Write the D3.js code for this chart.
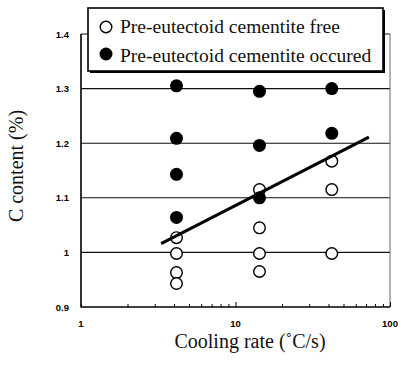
<!DOCTYPE html>
<html><head><meta charset="utf-8">
<script src="https://cdn.jsdelivr.net/npm/d3@7"></script>
<style>body{margin:0;background:#fff}svg{display:block}</style>
</head><body>
<svg id="c" width="401" height="369"></svg>
<script>
const yTicks = [0.9, 1.0, 1.1, 1.2, 1.3, 1.4];
const yTickLabels = ["0.9", "1", "1.1", "1.2", "1.3", "1.4"];
const xTicks = [1, 10, 100];
const xTickLabels = ["1", "10", "100"];
const freeX = [4.15, 4.15, 4.15, 4.15, 14.3, 14.3, 14.3, 14.3, 42, 42, 42];
const freeY = [1.027, 0.998, 0.963, 0.943, 1.115, 1.045, 0.998, 0.965, 1.167, 1.115, 0.998];
const occX = [4.15, 4.15, 4.15, 4.15, 14.3, 14.3, 14.3, 42, 42];
const occY = [1.305, 1.209, 1.143, 1.064, 1.295, 1.196, 1.10, 1.30, 1.218];
const trendX = [3.3, 73];
const trendY = [1.016, 1.211];
const legendLabels = ["Pre-eutectoid cementite free", "Pre-eutectoid cementite occured"];

const SERIF = '"Liberation Serif"';
const SANS = '"Liberation Sans"';

const svg = d3.select("#c");
const x = d3.scaleLog().domain([1, 100]).range([81, 390]);
const y = d3.scaleLinear().domain([0.9, 1.4]).range([307, 34]);

// gridlines
svg.append("g").selectAll("line").data(yTicks.filter(d => d > 0.9)).join("line")
  .attr("x1", x(1)).attr("x2", x(100)).attr("y1", d => y(d)).attr("y2", d => y(d))
  .attr("stroke", "#111").attr("stroke-width", 1.1);

// right axis
svg.append("line").attr("x1", x(100)).attr("x2", x(100)).attr("y1", y(1.4)).attr("y2", y(0.9))
  .attr("stroke", "#666").attr("stroke-width", 1);

// left axis
svg.append("line").attr("x1", x(1)).attr("x2", x(1)).attr("y1", y(1.4)).attr("y2", y(0.9) + 0.5)
  .attr("stroke", "#000").attr("stroke-width", 1.6);
// bottom axis
const xAxis = d3.axisBottom(x).tickValues(d3.range(1, 10).concat(d3.range(10, 101, 10))).tickSize(-3).tickFormat("");
const gx = svg.append("g").attr("transform", `translate(0,${y(0.9)})`).call(xAxis);
gx.select(".domain").attr("stroke", "#000").attr("stroke-width", 1.6).attr("d", `M${x(1)},0H${x(100)}`);
gx.selectAll(".tick line").attr("stroke", "#000").attr("stroke-width", 1)
  .attr("y2", d => (d === 10 || d === 100) ? -5 : -3);

// x tick labels
svg.append("g").selectAll("text").data(xTicks).join("text")
  .style("font-family", SANS).style("font-weight", "bold").style("font-size", "9.5px")
  .attr("x", d => x(d)).attr("y", 327).attr("text-anchor", "middle")
  .text((d, i) => xTickLabels[i]);
// y tick labels
svg.append("g").selectAll("text").data(yTicks).join("text")
  .style("font-family", SANS).style("font-weight", "bold").style("font-size", "9.5px")
  .attr("x", 69).attr("y", d => y(d) + 3.5).attr("text-anchor", "end")
  .text((d, i) => yTickLabels[i]);

// axis titles
svg.append("text").style("font-family", SERIF).style("font-size", "20px")
  .attr("x", 250).attr("y", 348).attr("text-anchor", "middle")
  .attr("fill", "#111").text("Cooling rate (˚C/s)");
svg.append("text").style("font-family", SERIF).style("font-size", "20px")
  .attr("transform", "translate(23,166) rotate(-90)").attr("text-anchor", "middle")
  .attr("fill", "#111").text("C content (%)");

// open circles
svg.append("g").selectAll("circle").data(freeX).join("circle")
  .attr("cx", d => x(d)).attr("cy", (d, i) => y(freeY[i])).attr("r", 5.8)
  .attr("fill", "#fff").attr("stroke", "#000").attr("stroke-width", 1.4);
// trend line
svg.append("line").attr("x1", x(trendX[0])).attr("y1", y(trendY[0]))
  .attr("x2", x(trendX[1])).attr("y2", y(trendY[1]))
  .attr("stroke", "#000").attr("stroke-width", 3);
// filled circles
svg.append("g").selectAll("circle").data(occX).join("circle")
  .attr("cx", d => x(d)).attr("cy", (d, i) => y(occY[i])).attr("r", 6.5)
  .attr("fill", "#000");

// legend
const lg = svg.append("g");
lg.append("rect").attr("x", 90).attr("y", 10).attr("width", 295).attr("height", 63).attr("fill", "#000");
lg.append("rect").attr("x", 88).attr("y", 8).attr("width", 295).attr("height", 63)
  .attr("fill", "#fff").attr("stroke", "#000").attr("stroke-width", 1.6);
lg.append("circle").attr("cx", 106).attr("cy", 27).attr("r", 5.8).attr("fill", "#fff").attr("stroke", "#000").attr("stroke-width", 1.4);
lg.append("circle").attr("cx", 106).attr("cy", 54).attr("r", 6.5).attr("fill", "#000");
lg.selectAll("text").data(legendLabels).join("text")
  .style("font-family", SERIF).style("font-size", "19.5px")
  .attr("x", 120).attr("y", (d, i) => 33 + i * 28.5)
  .attr("fill", "#111").text(d => d);
</script>
</body></html>
